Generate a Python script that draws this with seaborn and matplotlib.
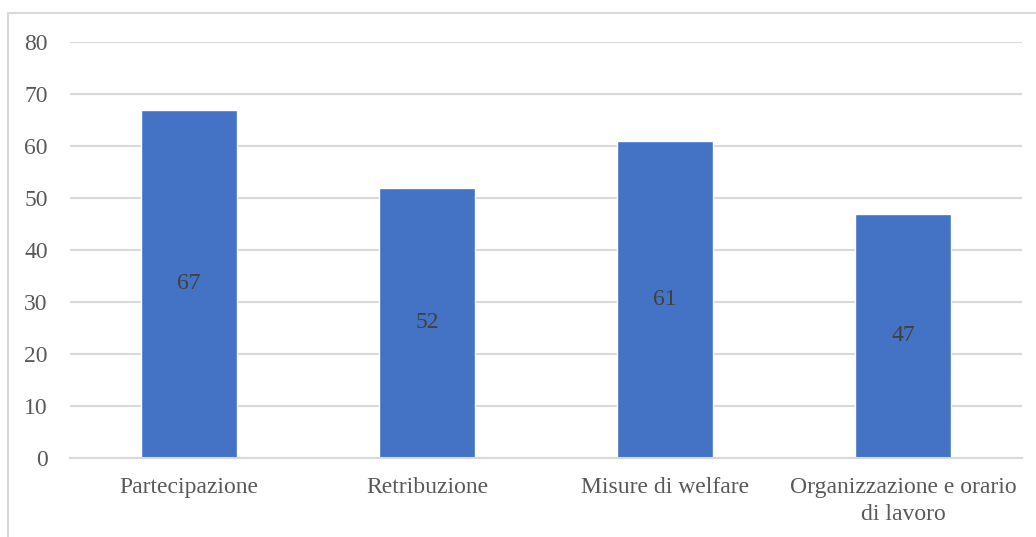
import pandas as pd
import seaborn as sns
import matplotlib.pyplot as plt
from matplotlib.patches import Rectangle

categories = ['Partecipazione', 'Retribuzione', 'Misure di welfare',
              'Organizzazione e orario\ndi lavoro']
values = [67, 52, 61, 47]
y_ticks = [0, 10, 20, 30, 40, 50, 60, 70, 80]

df = pd.DataFrame({'categoria': categories, 'valore': values})

sns.set_style('white')
plt.rcParams['font.family'] = 'serif'
plt.rcParams['font.serif'] = ['Liberation Serif', 'DejaVu Serif']

fig = plt.figure(figsize=(10.36, 5.37), dpi=100)
ax = fig.add_axes([70 / 1036, 1 - 458 / 537, 952 / 1036, 416 / 537])

# chart frame (cut off at right and bottom like the reference)
fig.patches.append(Rectangle((8 / 1036, -0.1), 1.2, 1 - 13 / 537 + 0.1,
                             transform=fig.transFigure, fill=False,
                             edgecolor='#D9D9D9', linewidth=1.5))

sns.barplot(data=df, x='categoria', y='valore', color='#4472C4',
            width=0.4, saturation=1, ax=ax)

ax.bar_label(ax.containers[0], label_type='center', fontsize=17,
             color='#404040')

ax.set_ylim(0, 80)
ax.set_xlim(-0.5, 3.5)
ax.set_yticks(y_ticks)
ax.yaxis.grid(True, color='#D9D9D9', linewidth=1.5)
ax.set_axisbelow(True)
for side in ['top', 'right', 'left']:
    ax.spines[side].set_visible(False)
ax.spines['bottom'].set_color('#D9D9D9')
ax.spines['bottom'].set_linewidth(1.5)
ax.tick_params(axis='both', length=0, labelsize=17, colors='#595959')
ax.tick_params(axis='y', pad=16)
ax.tick_params(axis='x', pad=14)
for lbl in ax.get_xticklabels():
    lbl.set_linespacing(1.35)
ax.set_xlabel('')
ax.set_ylabel('')

fig.savefig('out.png', dpi=100)
